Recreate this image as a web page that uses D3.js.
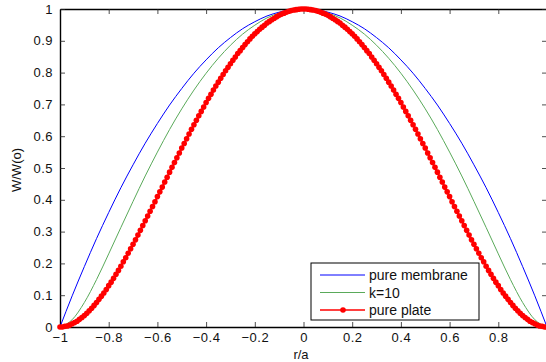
<!DOCTYPE html>
<html>
<head>
<meta charset="utf-8">
<script src="https://cdn.jsdelivr.net/npm/d3@7/dist/d3.min.js"></script>
<style>
  body { margin: 0; background: #fff; }
  svg { display: block; font-family: "Liberation Sans", Arial, sans-serif; }
</style>
</head>
<body>
<div class="canvas"></div>
<script>
// sampling grids along r/a
const rFine = d3.range(-100, 101).map(i => i / 100)
const rCoarse = d3.range(-20, 21).map(i => i / 20)

// W/W(0), r/a = -1 .. 1, step 0.05
const membrane = [
  0, 0.098, 0.190, 0.278, 0.360, 0.438, 0.510, 0.578, 0.640, 0.698,
  0.750, 0.798, 0.840, 0.878, 0.910, 0.938, 0.960, 0.978, 0.990, 0.998,
  1.000,
  0.998, 0.990, 0.978, 0.960, 0.938, 0.910, 0.878, 0.840, 0.798, 0.750,
  0.698, 0.640, 0.578, 0.510, 0.438, 0.360, 0.278, 0.190, 0.098, 0
]
const k10 = [
  0, 0.023, 0.077, 0.149, 0.230, 0.313, 0.395, 0.475, 0.550, 0.621,
  0.686, 0.745, 0.798, 0.845, 0.886, 0.921, 0.949, 0.972, 0.987, 0.997,
  1.000,
  0.997, 0.987, 0.972, 0.949, 0.921, 0.886, 0.845, 0.798, 0.745, 0.686,
  0.621, 0.550, 0.475, 0.395, 0.313, 0.230, 0.149, 0.077, 0.023, 0
]
// r/a = -1 .. 1, step 0.01
const plate = [
  0, 0.000, 0.002, 0.003, 0.006, 0.010, 0.014, 0.018, 0.024, 0.030,
  0.036, 0.043, 0.051, 0.059, 0.068, 0.077, 0.087, 0.097, 0.107, 0.118,
  0.130, 0.141, 0.153, 0.166, 0.178, 0.191, 0.205, 0.218, 0.232, 0.246,
  0.260, 0.274, 0.289, 0.304, 0.319, 0.334, 0.349, 0.364, 0.379, 0.394,
  0.410, 0.425, 0.440, 0.456, 0.471, 0.487, 0.502, 0.517, 0.532, 0.547,
  0.563, 0.577, 0.592, 0.607, 0.622, 0.636, 0.650, 0.664, 0.678, 0.692,
  0.706, 0.719, 0.732, 0.745, 0.758, 0.770, 0.782, 0.794, 0.806, 0.817,
  0.828, 0.839, 0.849, 0.860, 0.869, 0.879, 0.888, 0.897, 0.906, 0.914,
  0.922, 0.929, 0.936, 0.943, 0.949, 0.956, 0.961, 0.966, 0.971, 0.976,
  0.980, 0.984, 0.987, 0.990, 0.993, 0.995, 0.997, 0.998, 0.999, 1.000,
  1.000,
  1.000, 0.999, 0.998, 0.997, 0.995, 0.993, 0.990, 0.987, 0.984, 0.980,
  0.976, 0.971, 0.966, 0.961, 0.956, 0.949, 0.943, 0.936, 0.929, 0.922,
  0.914, 0.906, 0.897, 0.888, 0.879, 0.869, 0.860, 0.849, 0.839, 0.828,
  0.817, 0.806, 0.794, 0.782, 0.770, 0.758, 0.745, 0.732, 0.719, 0.706,
  0.692, 0.678, 0.664, 0.650, 0.636, 0.622, 0.607, 0.592, 0.577, 0.563,
  0.547, 0.532, 0.517, 0.502, 0.487, 0.471, 0.456, 0.440, 0.425, 0.410,
  0.394, 0.379, 0.364, 0.349, 0.334, 0.319, 0.304, 0.289, 0.274, 0.260,
  0.246, 0.232, 0.218, 0.205, 0.191, 0.178, 0.166, 0.153, 0.141, 0.130,
  0.118, 0.107, 0.097, 0.087, 0.077, 0.068, 0.059, 0.051, 0.043, 0.036,
  0.030, 0.024, 0.018, 0.014, 0.010, 0.006, 0.003, 0.002, 0.000, 0
]

const xTicks = [-1, -0.8, -0.6, -0.4, -0.2, 0, 0.2, 0.4, 0.6, 0.8, 1]
const yTicks = [0, 0.1, 0.2, 0.3, 0.4, 0.5, 0.6, 0.7, 0.8, 0.9, 1]
const legendNames = ['pure membrane', 'k=10', 'pure plate']

const dims = {width: 546, height: 362}
const box = {left: 60, right: 547, top: 9, bottom: 327}

const svg = d3.select('.canvas').append('svg')
    .attr('width', dims.width)
    .attr('height', dims.height)

const x = d3.scaleLinear().domain([-1, 1]).range([box.left, box.right])
const y = d3.scaleLinear().domain([0, 1]).range([box.bottom, box.top])

const tickLen = 5
const fmt = d => d3.format('')(+d.toFixed(1))

// axes, ticks inward like matlab
const xAxisB = d3.axisBottom(x).tickValues(xTicks).tickSizeInner(-tickLen).tickSizeOuter(0)
    .tickPadding(5.5).tickFormat(d => d === 1 ? '' : fmt(d))
const xAxisT = d3.axisTop(x).tickValues(xTicks).tickSizeInner(-tickLen).tickSizeOuter(0).tickFormat('')
const yAxisL = d3.axisLeft(y).tickValues(yTicks).tickSizeInner(-tickLen).tickSizeOuter(0)
    .tickPadding(7).tickFormat(fmt)
const yAxisR = d3.axisRight(y).tickValues(yTicks).tickSizeInner(-tickLen).tickSizeOuter(0).tickFormat('')

const axes = [
  svg.append('g').attr('transform', `translate(0,${box.bottom})`).call(xAxisB),
  svg.append('g').attr('transform', `translate(0,${box.top})`).call(xAxisT),
  svg.append('g').attr('transform', `translate(${box.left},0)`).call(yAxisL),
  svg.append('g').attr('transform', `translate(${box.right},0)`).call(yAxisR)
]
axes.forEach(g => {
  g.select('.domain').attr('stroke', '#000').attr('stroke-width', 1.4)
  g.selectAll('.tick line').attr('stroke', '#222').attr('stroke-width', 0.8)
  g.selectAll('.tick text').attr('fill', '#111')
      .style('font-size', '13px').style('letter-spacing', '0.5px')
})

const lineC = d3.line().x((d, i) => x(rCoarse[i])).y(d => y(d)).curve(d3.curveMonotoneX)
const lineF = d3.line().x((d, i) => x(rFine[i])).y(d => y(d))

svg.append('path').datum(membrane)
    .attr('d', lineC).attr('fill', 'none')
    .attr('stroke', '#0000ff').attr('stroke-width', 1)
svg.append('path').datum(k10)
    .attr('d', lineC).attr('fill', 'none')
    .attr('stroke', '#5aaa5a').attr('stroke-width', 1)
svg.append('path').datum(plate)
    .attr('d', lineF).attr('fill', 'none')
    .attr('stroke', '#ff0000').attr('stroke-width', 2)
svg.append('g').selectAll('circle')
    .data(plate)
    .enter()
        .append('circle')
        .attr('cx', (d, i) => x(rFine[i]))
        .attr('cy', d => y(d))
        .attr('r', 2.8)
        .attr('fill', '#ff0000')

// axis labels
svg.append('text')
    .attr('x', 301).attr('y', 359)
    .attr('text-anchor', 'middle')
    .style('font-size', '13px')
    .attr('fill', '#111')
    .text('r/a')
svg.append('text')
    .attr('transform', 'translate(21,170) rotate(-90)')
    .attr('text-anchor', 'middle')
    .style('font-size', '13px')
    .attr('fill', '#111')
    .text('W/W(o)')

// legend
const legend = svg.append('g').attr('transform', 'translate(311,263)')
legend.append('rect')
    .attr('width', 168).attr('height', 57)
    .attr('fill', '#fff').attr('stroke', '#000').attr('stroke-width', 1)
const legColors = ['#0000ff', '#5aaa5a', '#ff0000']
legend.selectAll('line.leg')
    .data(legendNames)
    .enter()
        .append('line')
        .attr('x1', 9).attr('x2', 54)
        .attr('y1', (d, i) => 12 + i * 17.5)
        .attr('y2', (d, i) => 12 + i * 17.5)
        .attr('stroke', (d, i) => legColors[i])
        .attr('stroke-width', (d, i) => i === 2 ? 1.5 : 1)
legend.append('circle')
    .attr('cx', 32).attr('cy', 12 + 2 * 17.5).attr('r', 2.8).attr('fill', '#ff0000')
legend.selectAll('text')
    .data(legendNames)
    .enter()
        .append('text')
        .text(d => d)
        .attr('x', 58)
        .attr('y', (d, i) => 17 + i * 17.5)
        .style('font-size', '14px')
        .attr('fill', '#111')
</script>
</body>
</html>
